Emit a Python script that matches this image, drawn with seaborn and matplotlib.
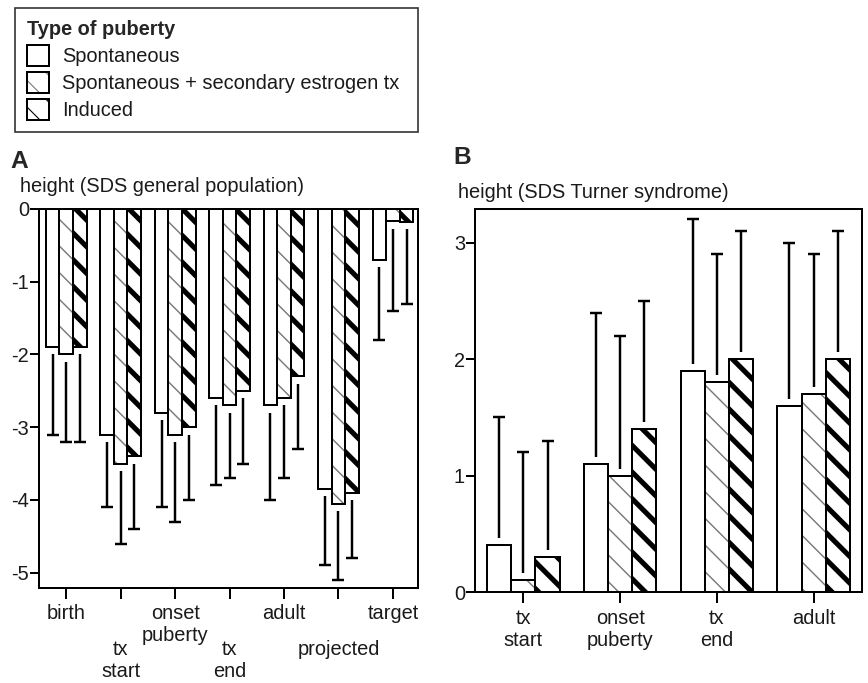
import matplotlib
matplotlib.use("Agg")
import matplotlib.pyplot as plt
from matplotlib.patches import Patch, Rectangle
import seaborn as sns
import pandas as pd

# ---------------- data ----------------
puberty_types = ["Spontaneous", "Spontaneous + secondary estrogen tx", "Induced"]

stages_a = ["birth", "tx start", "onset puberty", "tx end", "adult", "projected", "target"]
mean_a_spont = [-1.9, -3.1, -2.8, -2.6, -2.7, -3.85, -0.7]
mean_a_sec = [-2.0, -3.5, -3.1, -2.7, -2.6, -4.05, -0.17]
mean_a_ind = [-1.9, -3.4, -3.0, -2.5, -2.3, -3.9, -0.18]
err_a_spont = [-3.1, -4.1, -4.1, -3.8, -4.0, -4.9, -1.8]
err_a_sec = [-3.2, -4.6, -4.3, -3.7, -3.7, -5.1, -1.4]
err_a_ind = [-3.2, -4.4, -4.0, -3.5, -3.3, -4.8, -1.3]
ticks_a_major = ["birth", "onset\npuberty", "adult", "target"]
ticks_a_minor = ["tx\nstart", "tx\nend", "projected"]

stages_b = ["tx start", "onset puberty", "tx end", "adult"]
mean_b_spont = [0.4, 1.1, 1.9, 1.6]
mean_b_sec = [0.1, 1.0, 1.8, 1.7]
mean_b_ind = [0.3, 1.4, 2.0, 2.0]
err_b_spont = [1.5, 2.4, 3.2, 3.0]
err_b_sec = [1.2, 2.2, 2.9, 2.9]
err_b_ind = [1.3, 2.5, 3.1, 3.1]
ticks_b = ["tx\nstart", "onset\npuberty", "tx\nend", "adult"]

yticks_a = [0, -1, -2, -3, -4, -5]
yticks_b = [0, 1, 2, 3]

# ---------------- style ----------------
sns.set_theme(style="ticks")
plt.rcParams["font.family"] = ["Liberation Sans", "DejaVu Sans"]
plt.rcParams["axes.unicode_minus"] = False
plt.rcParams["hatch.linewidth"] = 1.0

DPI = 80
FS = 18
SEC_GRAY = "#7a7a7a"
TXT = "#1a1a1a"
LW = 1.8
HATCH_THICK = 4.6
HATCH_THIN = 1.3


def make_df(stages, means):
    rows = []
    for t, vals in zip(puberty_types, means):
        for s, v in zip(stages, vals):
            rows.append({"stage": s, "type": t, "value": v})
    return pd.DataFrame(rows)


df_a = make_df(stages_a, [mean_a_spont, mean_a_sec, mean_a_ind])
df_b = make_df(stages_b, [mean_b_spont, mean_b_sec, mean_b_ind])

fig = plt.figure(figsize=(868 / DPI, 683 / DPI), dpi=DPI)
axA = fig.add_axes([39 / 868, 95 / 683, 379 / 868, 379 / 683])
axB = fig.add_axes([475 / 868, 91 / 683, 387 / 868, 383 / 683])


def style_bars(ax):
    for i, cont in enumerate(ax.containers):
        for p in cont:
            p.set_facecolor("white")
            p.set_linewidth(LW)
            p.set_edgecolor("black")
            if i == 1:
                p.set_hatch("\\")
                p.set_edgecolor(SEC_GRAY)
                p.set_linewidth(0)
                if hasattr(p, "set_hatch_linewidth"):
                    p.set_hatch_linewidth(HATCH_THIN)
                ax.add_patch(Rectangle(p.get_xy(), p.get_width(), p.get_height(),
                                       fill=False, edgecolor="black", linewidth=LW,
                                       zorder=p.get_zorder() + 0.1))
            elif i == 2:
                p.set_hatch("\\")
                if hasattr(p, "set_hatch_linewidth"):
                    p.set_hatch_linewidth(HATCH_THICK)


def draw_errors(ax, means_list, ends_list, gap):
    for cont, means, ends in zip(ax.containers, means_list, ends_list):
        xs = [p.get_x() + p.get_width() / 2 for p in cont]
        starts = [m + (gap if e > m else -gap) for m, e in zip(means, ends)]
        ax.vlines(xs, starts, ends, color="black", lw=2.2, zorder=5)
        ax.plot(xs, ends, ls="none", marker="_", ms=11, mew=2.2, color="black", zorder=5)


for ax, df, order in [(axA, df_a, stages_a), (axB, df_b, stages_b)]:
    sns.barplot(data=df, x="stage", y="value", hue="type", order=order,
                hue_order=puberty_types, width=0.75, errorbar=None, ax=ax,
                legend=False, palette=["white"] * 3, edgecolor="black",
                linewidth=LW, saturation=1)
    style_bars(ax)
    ax.set_xlabel("")
    ax.set_ylabel("")
    for sp in ax.spines.values():
        sp.set_visible(True)
        sp.set_linewidth(LW)
        sp.set_color("black")
    ax.tick_params(axis="both", which="both", direction="out", color="black",
                   width=LW, labelsize=FS, labelcolor=TXT)
    ax.tick_params(axis="y", length=8, pad=1)
    ax.tick_params(axis="x", which="both", length=10)

draw_errors(axA, [mean_a_spont, mean_a_sec, mean_a_ind],
            [err_a_spont, err_a_sec, err_a_ind], 0.1)
draw_errors(axB, [mean_b_spont, mean_b_sec, mean_b_ind],
            [err_b_spont, err_b_sec, err_b_ind], 0.06)

# panel A axes
axA.set_xlim(-0.5, 6.46)
axA.set_ylim(-5.21, 0)
axA.set_yticks(yticks_a, [str(v) for v in yticks_a])
axA.set_xticks([0, 2, 4, 6], ticks_a_major)
axA.set_xticks([1, 3, 5], ticks_a_minor, minor=True)
axA.tick_params(axis="x", which="major", pad=4)
axA.tick_params(axis="x", which="minor", pad=37, labelsize=FS)

# panel B axes
axB.set_xlim(-0.5, 3.5)
axB.set_ylim(0, 3.29)
axB.set_yticks(yticks_b, [str(v) for v in yticks_b])
axB.set_xticks(range(len(ticks_b)), ticks_b)
axB.tick_params(axis="x", pad=5)

# texts
fig.text(10 / 868, 1 - 162 / 683, "A", fontsize=22, fontweight="bold", va="center", ha="left")
fig.text(453 / 868, 1 - 158 / 683, "B", fontsize=22, fontweight="bold", va="center", ha="left")
fig.text(20 / 868, 1 - 187 / 683, "height (SDS general population)", fontsize=FS,
         va="center", ha="left", color=TXT)
fig.text(458 / 868, 1 - 192 / 683, "height (SDS Turner syndrome)", fontsize=FS,
         va="center", ha="left", color=TXT)

# legend
h_sp = Patch(facecolor="white", edgecolor="black", linewidth=LW)
h_sec_fill = Patch(facecolor="white", edgecolor=SEC_GRAY, linewidth=0, hatch="\\")
h_sec_edge = Patch(fill=False, edgecolor="black", linewidth=LW)
h_ind = Patch(facecolor="white", edgecolor="black", linewidth=LW, hatch="\\")
if hasattr(h_ind, "set_hatch_linewidth"):
    h_ind.set_hatch_linewidth(HATCH_THICK)
    h_sec_fill.set_hatch_linewidth(HATCH_THIN)
leg = fig.legend([h_sp, (h_sec_fill, h_sec_edge), h_ind], puberty_types,
                 loc="upper left",
                 bbox_to_anchor=(15 / 868, 1 - 128 / 683, 403 / 868, 120 / 683),
                 mode="expand", fontsize=FS, title="Type of puberty",
                 title_fontproperties={"weight": "bold", "size": FS},
                 alignment="left", frameon=True, fancybox=False, shadow=False,
                 handlelength=1.1, handleheight=1.2, handletextpad=0.65,
                 labelspacing=0.3, borderpad=0.6, borderaxespad=0)
leg.get_frame().set_edgecolor("black")
leg.get_frame().set_linewidth(1.5)
for t in leg.get_texts():
    t.set_color(TXT)

fig.savefig("out.png", dpi=DPI)
